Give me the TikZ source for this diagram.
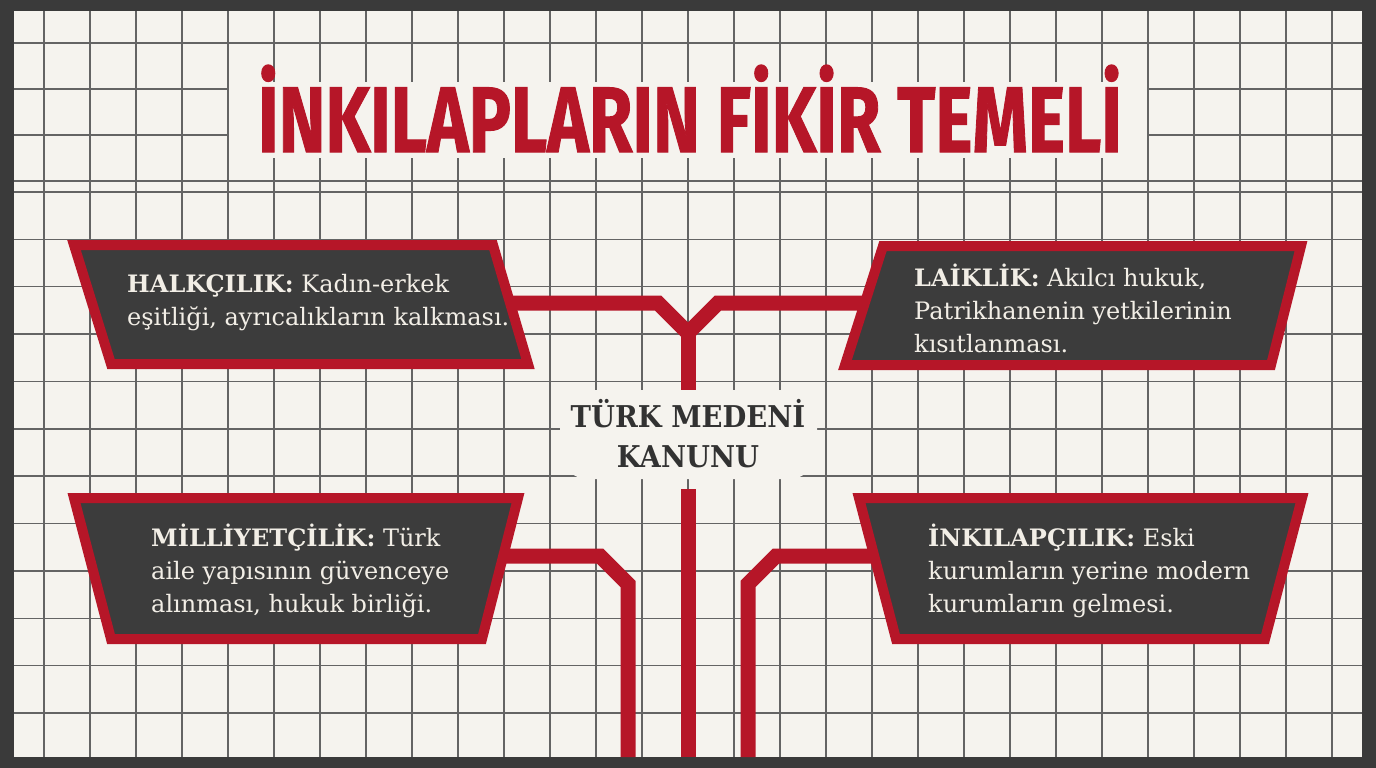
\documentclass[tikz,border=0pt]{standalone}
\usepackage{fontspec}
\setmainfont{DejaVu Serif}
\newfontfamily\titlefont[FakeBold=1.2]{Fira Sans}
\definecolor{framec}{RGB}{58,58,58}
\definecolor{paper}{RGB}{245,243,238}
\definecolor{gridc}{RGB}{100,100,100}
\definecolor{redc}{RGB}{182,22,40}
\definecolor{boxfill}{RGB}{60,60,60}
\definecolor{boxtext}{RGB}{242,238,230}
\definecolor{inkc}{RGB}{50,50,50}
\begin{document}
\begin{tikzpicture}[x=1pt,y=-1pt,
  gridline/.style={draw=gridc,line width=1.4pt},
  conn/.style={draw=redc,line width=15pt,line join=miter},
  panel/.style={draw=redc,line width=10pt,fill=boxfill,line join=miter},
  paneltext/.style={text=boxtext,font=\fontsize{24}{33}\selectfont,align=left,anchor=base west,inner sep=0pt},
]
\useasboundingbox (0,0) rectangle (1376,768);
\fill[framec] (0,0) rectangle (1376,768);
\fill[paper] (14,11) rectangle (1362,757);
\foreach \k in {0,...,28} \draw[gridline] ({44+46*\k},11) -- ({44+46*\k},757);
\foreach \y in {43,89,135,181,192} \draw[gridline] (14,\y) -- (1362,\y);
\foreach \k in {1,...,11} \draw[gridline] (14,{192+47.36*\k}) -- (1362,{192+47.36*\k});
% backings
\fill[paper] (229,82) rectangle (1147,158);
\fill[paper, rounded corners=28pt] (560,390) rectangle (817,479);

% title
\node[text=redc, anchor=base, inner sep=0pt] (title) at (690,152)
  {\resizebox{864pt}{\height}{\titlefont\fontsize{93}{93}\selectfont\bfseries İNKILAPLARIN FİKİR TEMELİ}};

% centre (anchor base = last line)
\node[text=inkc, align=center, inner sep=0pt, anchor=base,
  font=\fontsize{30}{40}\selectfont\bfseries] (tmk) at (688,467)
  {\scalebox{0.915}[1]{TÜRK MEDENİ}\\\scalebox{0.915}[1]{KANUNU}};

% connector anchors
\coordinate (c1) at (505,303);
\coordinate (c2) at (872,303);
\coordinate (c3) at (495,556);
\coordinate (c4) at (882,556);
\coordinate (jn) at (688,333);
\coordinate (stemtop) at (688,390);
\coordinate (stembot) at (688,489);
\coordinate (endc) at (688,757);
\coordinate (end3) at (628,757);
\coordinate (end4) at (748,757);

% connectors
\draw[conn] (c1) -- (658,303) -- (jn) -- (718,303) -- (c2);
\draw[conn] (jn) -- (stemtop);
\draw[conn] (stembot) -- (endc);
\draw[conn] (c3) -- (600,556) -- (628,584) -- (end3);
\draw[conn] (c4) -- (776,556) -- (748,584) -- (end4);

% panels
\draw[panel] (74,245) -- (493,245) -- (528,364) -- (111,364) -- cycle;
\draw[panel] (883,246) -- (1301,246) -- (1271,365) -- (845,365) -- cycle;
\draw[panel] (74,498) -- (518,498) -- (482,639) -- (111,639) -- cycle;
\draw[panel] (859,498) -- (1302,498) -- (1265,639) -- (896,639) -- cycle;

% panel texts (anchor base = last line)
\node[paneltext] (halk) at (127,325) {\textbf{HALKÇILIK:} Kadın-erkek\\eşitliği, ayrıcalıkların kalkması.};
\node[paneltext] (laik) at (914,352) {\textbf{LAİKLİK:} Akılcı hukuk,\\Patrikhanenin yetkilerinin\\kısıtlanması.};
\node[paneltext] (mill) at (151,612) {\textbf{MİLLİYETÇİLİK:} Türk\\aile yapısının güvenceye\\alınması, hukuk birliği.};
\node[paneltext] (inkl) at (928,612) {\textbf{İNKILAPÇILIK:} Eski\\kurumların yerine modern\\kurumların gelmesi.};
\end{tikzpicture}
\end{document}
